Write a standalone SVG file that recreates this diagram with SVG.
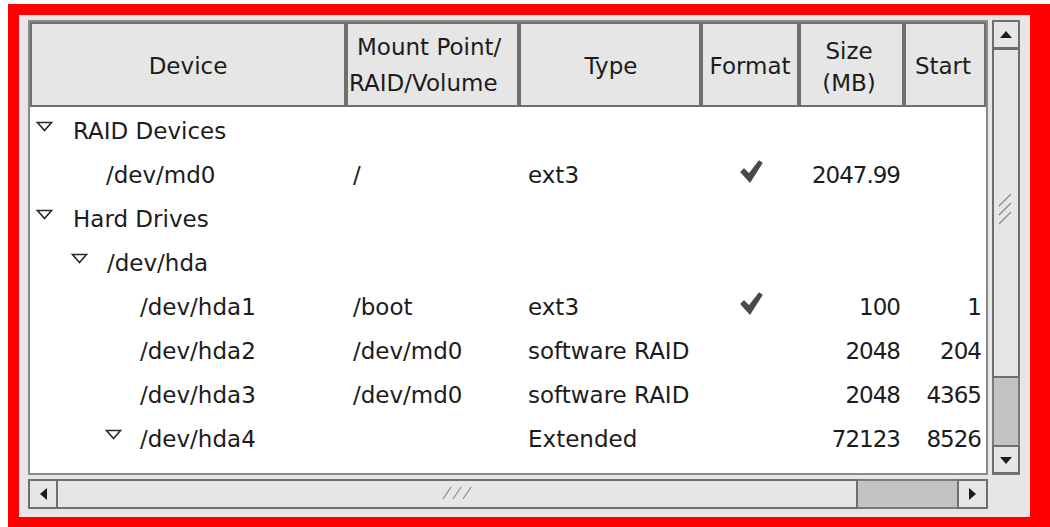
<svg xmlns="http://www.w3.org/2000/svg" width="1050" height="527" viewBox="0 0 1050 527">
<style>
text{font-family:"DejaVu Sans","Liberation Sans",sans-serif;font-size:23px;fill:#1c1c1c}
.n{letter-spacing:-1px}
.hd{fill:#e6e6e6;stroke:#6f6f6f;stroke-width:2}
.hl{fill:none;stroke:#ffffff;stroke-width:1}
.tri{fill:none;stroke:#2a2a2a;stroke-width:1.6;stroke-linejoin:miter}
.r{text-anchor:end}
.m{text-anchor:middle}
.btn{fill:#e6e6e6;stroke:#6f6f6f;stroke-width:2}
.grip{stroke:#8a8a8a;stroke-width:1.2}
.chk{fill:#4a4a4a;stroke:#4a4a4a;stroke-width:1.2;stroke-linejoin:round}
.arr{fill:#1c1c1c}
</style>
<defs>
<path id="check" d="M0,11 L3,8 L8,13 L18,0 L21,2 L9,21 Z"/>
</defs>
<rect x="0" y="0" width="1050" height="527" fill="#ffffff"/>
<rect x="8" y="4" width="1042" height="523" fill="#ff0000"/>
<rect x="19" y="15" width="1011" height="502" fill="#e6e6e6"/>

<g id="treeview">
<rect x="29" y="21" width="958" height="453" fill="#ffffff" stroke="#8a8a8a" stroke-width="2"/>
<rect x="30" y="106" width="956" height="366" fill="#ffffff"/>
</g>

<g id="header">
<g id="h-device"><rect class="hd" x="31" y="23" width="314" height="83"/><text class="m" x="188" y="74">Device</text></g>
<g id="h-mount"><rect class="hd" x="347" y="23" width="171" height="83"/><text x="357" y="55">Mount Point/</text><text x="349" y="91">RAID/Volume</text></g>
<g id="h-type"><rect class="hd" x="520" y="23" width="180" height="83"/><text class="m" x="611" y="74">Type</text></g>
<g id="h-format"><rect class="hd" x="702" y="23" width="96" height="83"/><text class="m" x="750" y="74">Format</text></g>
<g id="h-size"><rect class="hd" x="800" y="23" width="103" height="83"/><text class="m" x="849" y="59">Size</text><text class="m" x="849" y="91">(MB)</text></g>
<g id="h-start"><rect class="hd" x="905" y="23" width="80" height="83"/><text class="m" x="943" y="74">Start</text></g>
</g>

<g id="rows">
<g id="row-raid"><path class="tri" d="M37.5,122.5 L51.5,122.5 L44.5,130.5 Z"/><text x="73" y="139">RAID Devices</text></g>
<g id="row-md0"><text x="106" y="183">/dev/md0</text><text x="353" y="183">/</text><text x="528" y="183">ext3</text><use href="#check" class="chk" x="741" y="161"/><text class="r n" x="900" y="183">2047.99</text></g>
<g id="row-hd"><path class="tri" d="M37.5,210.5 L51.5,210.5 L44.5,218.5 Z"/><text x="73" y="227">Hard Drives</text></g>
<g id="row-hda"><path class="tri" d="M72.5,254.5 L86.5,254.5 L79.5,262.5 Z"/><text x="107" y="271">/dev/hda</text></g>
<g id="row-hda1"><text x="140" y="315">/dev/hda1</text><text x="353" y="315">/boot</text><text x="528" y="315">ext3</text><use href="#check" class="chk" x="741" y="293"/><text class="r n" x="900" y="315">100</text><text class="r n" x="981" y="315">1</text></g>
<g id="row-hda2"><text x="140" y="359">/dev/hda2</text><text x="353" y="359">/dev/md0</text><text x="528" y="359">software RAID</text><text class="r n" x="900" y="359">2048</text><text class="r n" x="981" y="359">204</text></g>
<g id="row-hda3"><text x="140" y="403">/dev/hda3</text><text x="353" y="403">/dev/md0</text><text x="528" y="403">software RAID</text><text class="r n" x="900" y="403">2048</text><text class="r n" x="981" y="403">4365</text></g>
<g id="row-hda4"><path class="tri" d="M106.5,430.5 L120.5,430.5 L113.5,438.5 Z"/><text x="140" y="447">/dev/hda4</text><text x="528" y="447">Extended</text><text class="r n" x="900" y="447">72123</text><text class="r n" x="981" y="447">8526</text></g>
</g>

<g id="vscroll">
<rect x="993" y="21" width="26" height="453" fill="#c3c3c3" stroke="#7a7a7a" stroke-width="2"/>
<rect class="btn" x="993" y="21" width="26" height="27"/>
<path class="arr" d="M1000,38 L1006,31 L1012,38 Z"/>
<rect class="btn" x="993" y="49" width="26" height="328"/>
<line class="grip" x1="999" y1="206" x2="1011" y2="194"/>
<line class="grip" x1="999" y1="215" x2="1011" y2="203"/>
<line class="grip" x1="999" y1="224" x2="1011" y2="212"/>
<rect class="btn" x="993" y="446" width="26" height="27"/>
<path class="arr" d="M1000,457 L1006,464 L1012,457 Z"/>
</g>

<g id="hscroll">
<rect x="29" y="480" width="958" height="28" fill="#c3c3c3" stroke="#7a7a7a" stroke-width="2"/>
<rect class="btn" x="29" y="480" width="28" height="28"/>
<path class="arr" d="M40,494 L47,488 L47,500 Z"/>
<rect class="btn" x="57" y="480" width="800" height="28"/>
<line class="grip" x1="443" y1="499" x2="451" y2="487"/>
<line class="grip" x1="453" y1="499" x2="461" y2="487"/>
<line class="grip" x1="463" y1="499" x2="471" y2="487"/>
<rect class="btn" x="958" y="480" width="29" height="28"/>
<path class="arr" d="M976,494 L969,488 L969,500 Z"/>
</g>
</svg>
